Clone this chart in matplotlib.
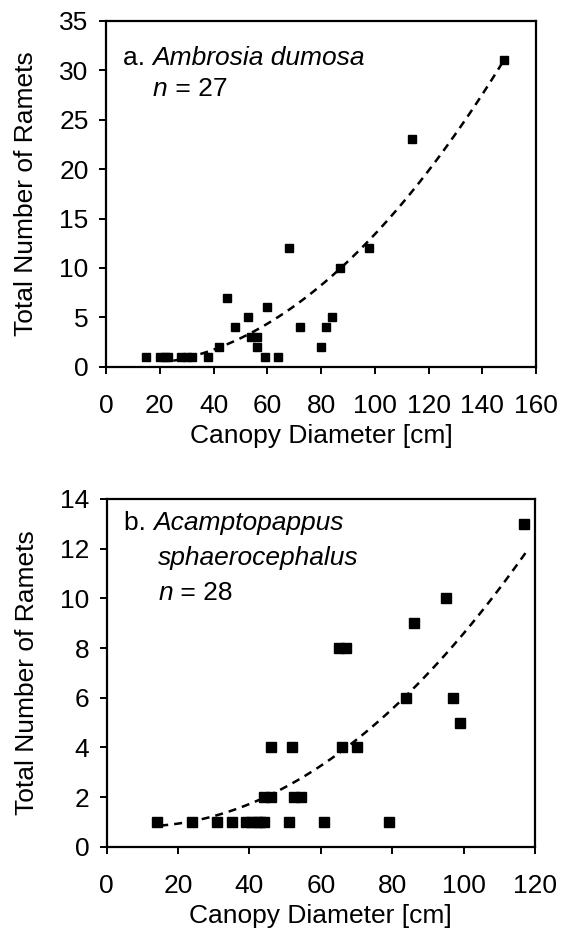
import numpy as np
import matplotlib.pyplot as plt

plt.rcParams['font.family'] = ['Liberation Sans', 'DejaVu Sans']

# panel a: Ambrosia dumosa
amb_diam = [15, 20, 22, 23, 28, 30, 32, 38, 42, 45, 48, 53, 54, 56, 56, 59, 60,
            64, 68, 72, 80, 82, 84, 87, 98, 114, 148]
amb_ramets = [1, 1, 1, 1, 1, 1, 1, 1, 2, 7, 4, 5, 3, 3, 2, 1, 6,
              1, 12, 4, 2, 4, 5, 10, 12, 23, 31]
amb_fit = [0.001593, -0.0284, 0.314]   # quadratic trend
amb_fit_range = [25, 148]

# panel b: Acamptopappus sphaerocephalus
aca_diam = [14, 24, 31, 35, 39, 40.5, 42, 43, 44, 51, 61, 79,
            44, 46, 52.5, 54.5, 46, 52, 66, 70, 99, 84, 97, 65, 67, 86, 95, 117]
aca_ramets = [1, 1, 1, 1, 1, 1, 1, 1, 1, 1, 1, 1,
              2, 2, 2, 2, 4, 4, 4, 4, 5, 6, 6, 8, 8, 9, 10, 13]
aca_fit = [0.000937, -0.01675, 0.8905]
aca_fit_range = [15, 118]

FS = 19


def style_axes(ax, xmax, xstep, ymax, ystep):
    ax.set_xlim(0, xmax)
    ax.set_ylim(0, ymax)
    ax.set_xticks(np.arange(0, xmax + 1, xstep))
    ax.set_yticks(np.arange(0, ymax + 1, ystep))
    for s in ax.spines.values():
        s.set_linewidth(1.6)
    ax.tick_params(direction='out', length=5, width=1.4, labelsize=FS)
    ax.tick_params(axis='x', pad=15)
    ax.tick_params(axis='y', pad=7.5)
    ax.set_xlabel("Canopy Diameter [cm]", fontsize=FS, labelpad=4)
    ax.set_ylabel("Total Number of Ramets", fontsize=FS, labelpad=15)


def two_part(ax, x, y, first, second, first_italic):
    t = ax.text(x, y, first, transform=ax.transAxes, fontsize=FS,
                style='italic' if first_italic else 'normal', va='baseline')
    ax.annotate(second, xy=(1, 0), xycoords=t, va='bottom', fontsize=FS,
                style='normal' if first_italic else 'italic')


fig = plt.figure(figsize=(5.63, 9.39), dpi=100)

ax1 = fig.add_axes([0.1883, 0.6095, 0.7638, 0.3682])
ax1.plot(amb_diam, amb_ramets, 's', color='black', ms=6.2)
xs = np.linspace(amb_fit_range[0], amb_fit_range[1], 100)
ax1.plot(xs, np.polyval(amb_fit, xs), '--', color='black', lw=1.8, dashes=(3.2, 2.4))
style_axes(ax1, 160, 20, 35, 5)
two_part(ax1, 0.04, 0.873, "a. ", "Ambrosia dumosa", False)
two_part(ax1, 0.109, 0.783, "n", " = 27", True)

ax2 = fig.add_axes([0.1895, 0.0983, 0.7607, 0.3703])
ax2.plot(aca_diam, aca_ramets, 's', color='black', ms=7)
xs = np.linspace(aca_fit_range[0], aca_fit_range[1], 100)
ax2.plot(xs, np.polyval(aca_fit, xs), '--', color='black', lw=1.8, dashes=(3.2, 2.4))
style_axes(ax2, 120, 20, 14, 2)
two_part(ax2, 0.04, 0.911, "b. ", "Acamptopappus", False)
ax2.text(0.12, 0.81, "sphaerocephalus", transform=ax2.transAxes, fontsize=FS,
         style='italic', va='baseline')
two_part(ax2, 0.12, 0.71, "n", " = 28", True)

fig.savefig("out.png", dpi=100)
